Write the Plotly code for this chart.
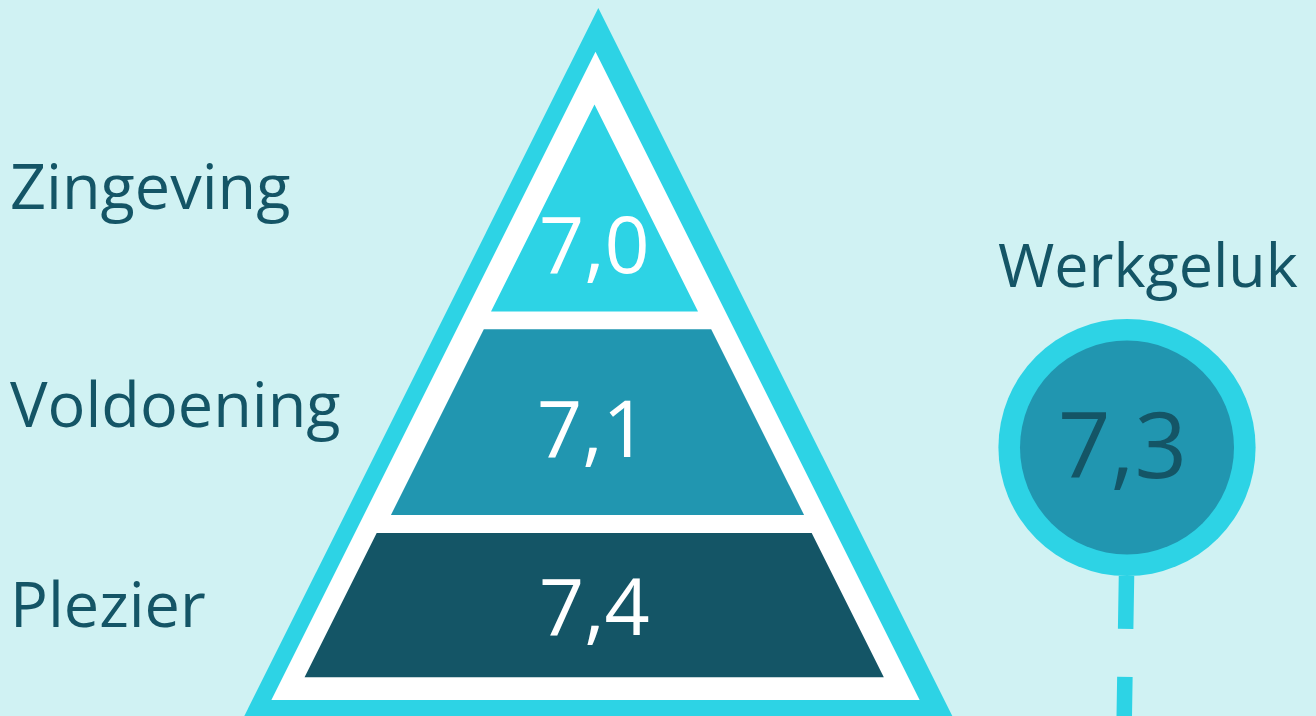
import plotly.graph_objects as go

# --- data -------------------------------------------------------------
dimensions = ["Plezier", "Voldoening", "Zingeving"]   # pyramid, bottom to top
scores = [7.4, 7.1, 7.0]
overall_label = "Werkgeluk"
overall_score = 7.3

# --- styling ----------------------------------------------------------
BG = "#D0F2F3"
CYAN = "#2DD3E5"
MID = "#2196B0"
DARK = "#145566"
WHITE = "#FFFFFF"
layer_colors = [DARK, MID, CYAN]
FONT = "Open Sans"

W, H = 1316, 716
SLOPE = 0.5  # half-width growth per unit of height for every pyramid edge


def fmt(v):
    return f"{v:.1f}".replace(".", ",")


def triangle_band(cx, apex_y, y_top, y_bot):
    """Closed outline of a horizontal slice of a triangle with given apex."""
    ht = (y_top - apex_y) * SLOPE
    hb = (y_bot - apex_y) * SLOPE
    xs = [cx - ht, cx + ht, cx + hb, cx - hb, cx - ht]
    ys = [y_top, y_top, y_bot, y_bot, y_top]
    return xs, ys


fig = go.Figure()

# outer frame of the pyramid and its white inner border
for cx, apex, bottom, color in [(598.3, 8, 900, CYAN), (595.5, 51.7, 700, WHITE)]:
    xs, ys = triangle_band(cx, apex, apex, bottom)
    fig.add_trace(go.Scatter(x=xs, y=ys, fill="toself", fillcolor=color,
                             mode="lines", line=dict(width=0), hoverinfo="skip"))

# pyramid layers: (centre x, apex y, top y, bottom y), bottom to top
layer_geom = [
    (594.2, 98.0, 533.0, 677.3),
    (597.5, 101.9, 329.3, 515.0),
    (594.5, 104.5, 104.5, 311.5),
]
label_y = [602, 402, 184]
value_y = [604, 426, 242]
value_x = [594.7, 592.7, 594.2]

for name, score, color, (cx, apex, yt, yb), ly, vy, vx in zip(
        dimensions, scores, layer_colors, layer_geom, label_y, value_y, value_x):
    xs, ys = triangle_band(cx, apex, yt, yb)
    fig.add_trace(go.Scatter(x=xs, y=ys, fill="toself", fillcolor=color,
                             mode="lines", line=dict(width=0), name=name,
                             hoverinfo="skip"))
    fig.add_annotation(x=vx, y=vy, text=fmt(score), showarrow=False,
                       xanchor="center", yanchor="middle",
                       font=dict(family=FONT, size=79, color=WHITE))
    fig.add_annotation(x=8, y=ly, text=name, showarrow=False,
                       xanchor="left", yanchor="middle",
                       font=dict(family=FONT, size=63, color=DARK))

# overall score: dashed stem under a ringed disc
fig.add_trace(go.Scatter(x=[1126.5, 1123.3], y=[576, 776], mode="lines",
                         line=dict(color=CYAN, width=15.5, dash="53px,48px"),
                         hoverinfo="skip"))
cx, cy = 1127, 447.5
fig.add_shape(type="circle", x0=cx - 128.6, x1=cx + 128.6, y0=cy - 128.6, y1=cy + 128.6,
              fillcolor=CYAN, line=dict(width=0), layer="above")
fig.add_shape(type="circle", x0=cx - 107, x1=cx + 107, y0=cy - 107, y1=cy + 107,
              fillcolor=MID, line=dict(width=0), layer="above")
fig.add_annotation(x=1122, y=442, text=fmt(overall_score), showarrow=False,
                   xanchor="center", yanchor="middle",
                   font=dict(family=FONT, size=92, color=DARK))
fig.add_annotation(x=1148, y=263, text=overall_label, showarrow=False,
                   xanchor="center", yanchor="middle",
                   font=dict(family=FONT, size=61, color=DARK))

fig.update_layout(
    width=W, height=H,
    margin=dict(l=0, r=0, t=0, b=0),
    paper_bgcolor=BG, plot_bgcolor=BG,
    showlegend=False,
    xaxis=dict(range=[0, W], visible=False, fixedrange=True),
    yaxis=dict(range=[H, 0], visible=False, fixedrange=True),
)

fig.write_html("out.html", config={"displayModeBar": False})
